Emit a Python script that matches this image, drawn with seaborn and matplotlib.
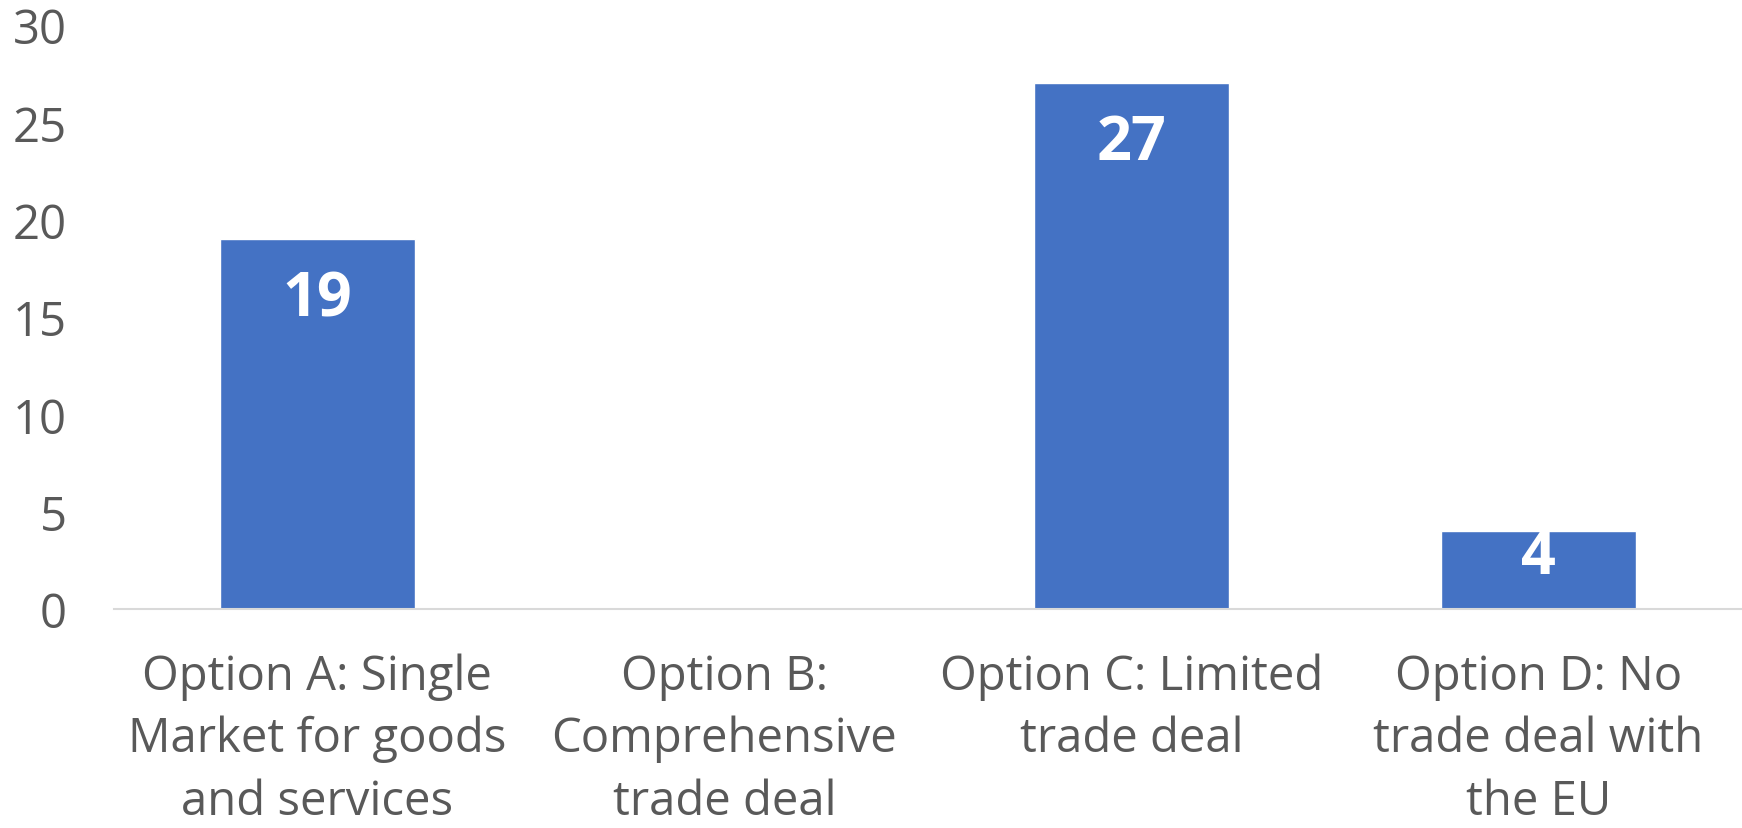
import numpy as np
import pandas as pd
import matplotlib
matplotlib.use("Agg")
import matplotlib.pyplot as plt
import seaborn as sns

# data
categories = [
    "Option A: Single\nMarket for goods\nand services",
    "Option B:\nComprehensive\ntrade deal",
    "Option C: Limited\ntrade deal",
    "Option D: No\ntrade deal with\nthe EU",
]
votes = [19, 0, 27, 4]

sns.set_theme(style="white")
plt.rcParams["font.family"] = ["Open Sans", "DejaVu Sans"]

df = pd.DataFrame({"option": categories, "votes": votes})

fig = plt.figure(figsize=(17.42, 8.29), dpi=100)
ax = fig.add_axes([0.0654, 0.264, 0.9346, 0.7046])

sns.barplot(data=df, x="option", y="votes", order=categories, color="#4472C4",
            saturation=1, width=0.48, ax=ax)

ax.set_ylim(0, 30)
ax.set_yticks(np.arange(0, 31, 5))
ax.set_xlim(-0.5, len(categories) - 0.5)
ax.set_xlabel("")
ax.set_ylabel("")

for s in ["top", "right", "left"]:
    ax.spines[s].set_visible(False)
ax.spines["bottom"].set_color("#d9d9d9")
ax.spines["bottom"].set_linewidth(1.5)

ax.tick_params(axis="both", length=0, colors="#595959", labelsize=34)
ax.tick_params(axis="x", pad=31)
ax.tick_params(axis="y", pad=34)
for lbl in ax.get_xticklabels():
    lbl.set_linespacing(1.41)

# value labels inside the bar ends
for i, v in enumerate(votes):
    if v <= 0:
        continue
    ypos = max(v - 3.1, v * 0.66)
    ax.text(i, ypos, str(v), ha="center", va="center", color="white",
            fontsize=44, fontweight="bold")

fig.savefig("out.png", dpi=100)
